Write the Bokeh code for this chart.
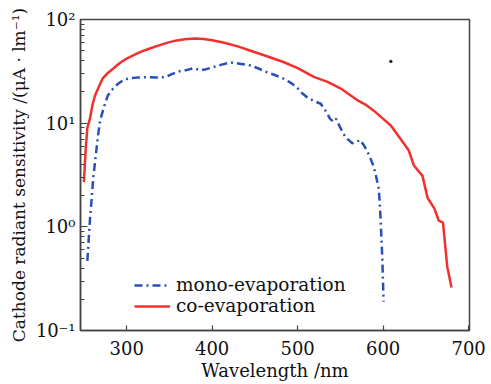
from bokeh.plotting import figure
from bokeh.models import FixedTicker, CustomJSTickFormatter, Range1d, Legend, LegendItem
from bokeh.embed import file_html
from bokeh.resources import INLINE

# co-evaporation (red solid)
co_wl = [250, 252, 254, 257, 260, 263, 268, 272, 278, 284, 292, 300, 310, 317, 327,
         337, 347, 357, 368, 380, 390, 400, 413, 430, 445, 465, 484, 500, 519, 535,
         550, 560, 570, 580, 589, 600, 609, 620, 630, 636, 646, 652, 660, 665, 670,
         675, 680]
co_val = [2.7, 5.5, 9.0, 11.0, 15.0, 18.5, 23.0, 27.0, 30.5, 33.5, 38.0, 42.0, 46.0, 49.0, 52.5,
          56.0, 59.5, 62.5, 64.5, 65.5, 65.0, 63.0, 60.0, 55.0, 50.0, 44.0, 38.7, 34.0, 28.0, 25.0,
          21.7, 19.0, 16.6, 15.0, 13.2, 11.0, 9.5, 7.1, 5.45, 3.9, 3.1, 1.9, 1.5, 1.15, 1.1,
          0.41, 0.26]

# mono-evaporation (blue dash-dot)
mono_wl = [254, 257, 261, 265, 267, 269, 273, 278, 284, 290, 296, 302, 312, 322, 335,
           345, 352, 360, 370, 378, 386, 392, 400, 410, 421, 432, 445, 455, 464, 474,
           484, 492, 499, 505, 511, 518, 527, 533, 538, 542, 545, 550, 556, 564, 569,
           573, 577, 581, 585, 589, 592, 595, 597, 599, 600.5]
mono_val = [0.47, 1.15, 3.0, 5.9, 8.2, 10.6, 14.0, 18.5, 21.5, 24.0, 26.0, 27.0, 27.5, 27.8, 27.5,
            27.8, 29.5, 31.5, 32.5, 33.9, 32.5, 33.0, 34.5, 36.5, 38.5, 37.5, 36.0, 33.5, 31.0, 29.0,
            26.8, 24.5, 22.2, 19.5, 17.8, 16.5, 15.4, 13.0, 11.0, 10.3, 11.0, 9.0, 7.3, 6.4, 6.6,
            6.9, 6.2, 5.45, 4.6, 3.8, 3.0, 2.3, 1.2, 0.5, 0.19]

# stray dot in the original figure
dot_wl = [609]
dot_val = [39.4]

x_ticks = [300, 400, 500, 600, 700]
y_ticks = [0.1, 1, 10, 100]

FONT = "DejaVu Serif"
AX = "#444444"

p = figure(output_backend="svg", toolbar_location=None, y_axis_type="log",
           x_range=Range1d(246, 701), y_range=Range1d(0.1, 100),
           frame_width=389, frame_height=311,
           min_border_left=80, min_border_right=22, min_border_top=19, min_border_bottom=54)

p.xgrid.visible = False
p.ygrid.visible = False
p.outline_line_color = AX
p.outline_line_width = 1.5
p.background_fill_color = "white"
p.border_fill_color = "white"

r_mono = p.line(mono_wl, mono_val, color="#2a4fb6", line_width=2.5, line_dash="8 4 2 4")
r_co = p.line(co_wl, co_val, color="#f2302e", line_width=2.5)
p.scatter(dot_wl, dot_val, size=2.5, color="#222222")

xa = p.xaxis[0]
xa.ticker = FixedTicker(ticks=x_ticks)
xa.axis_label = "Wavelength /nm"
xa.major_tick_in = 5
xa.major_tick_out = 0
xa.minor_tick_in = 0
xa.minor_tick_out = 0
xa.major_label_standoff = 10
xa.axis_label_standoff = 2

ya = p.yaxis[0]
ya.ticker = FixedTicker(ticks=y_ticks, minor_ticks=[m * d for d in [0.1, 1, 10] for m in range(2, 10)])
ya.formatter = CustomJSTickFormatter(code="""
const e = Math.round(Math.log10(tick));
const sup = {"-": "\u207b", "0": "\u2070", "1": "\u00b9", "2": "\u00b2", "3": "\u00b3"};
return "10" + String(e).split("").map(c => sup[c]).join("");
""")
ya.axis_label = "Cathode radiant sensitivity /(\u03bcA \u00b7 lm\u207b\u00b9)"
ya.major_tick_in = 7
ya.major_tick_out = 0
ya.minor_tick_in = 4
ya.minor_tick_out = 0
ya.major_label_standoff = 5
ya.axis_label_standoff = 4

for ax in (xa, ya):
    ax.axis_line_color = AX
    ax.axis_line_width = 1.5
    ax.major_tick_line_color = AX
    ax.minor_tick_line_color = AX
    ax.major_tick_line_width = 1.2
    ax.major_label_text_font = FONT
    ax.major_label_text_font_size = "18px"
    ax.major_label_text_color = "#111111"
    ax.axis_label_text_font = FONT
    ax.axis_label_text_font_style = "normal"
    ax.axis_label_text_color = "#111111"

xa.axis_label_text_font_size = "18px"
ya.axis_label_text_font_size = "17px"

legend = Legend(items=[LegendItem(label="mono-evaporation", renderers=[r_mono]),
                       LegendItem(label="co-evaporation", renderers=[r_co])],
                location=(54, 14), orientation="vertical")
legend.border_line_color = None
legend.background_fill_alpha = 0
legend.padding = 0
legend.margin = 0
legend.spacing = 0
legend.glyph_width = 36
legend.glyph_height = 20
legend.label_height = 20
legend.label_standoff = 6
legend.label_text_font = FONT
legend.label_text_font_size = "18.5px"
legend.label_text_color = "#111111"
p.add_layout(legend)

with open("out.html", "w", encoding="utf-8") as f:
    f.write(file_html(p, INLINE))
